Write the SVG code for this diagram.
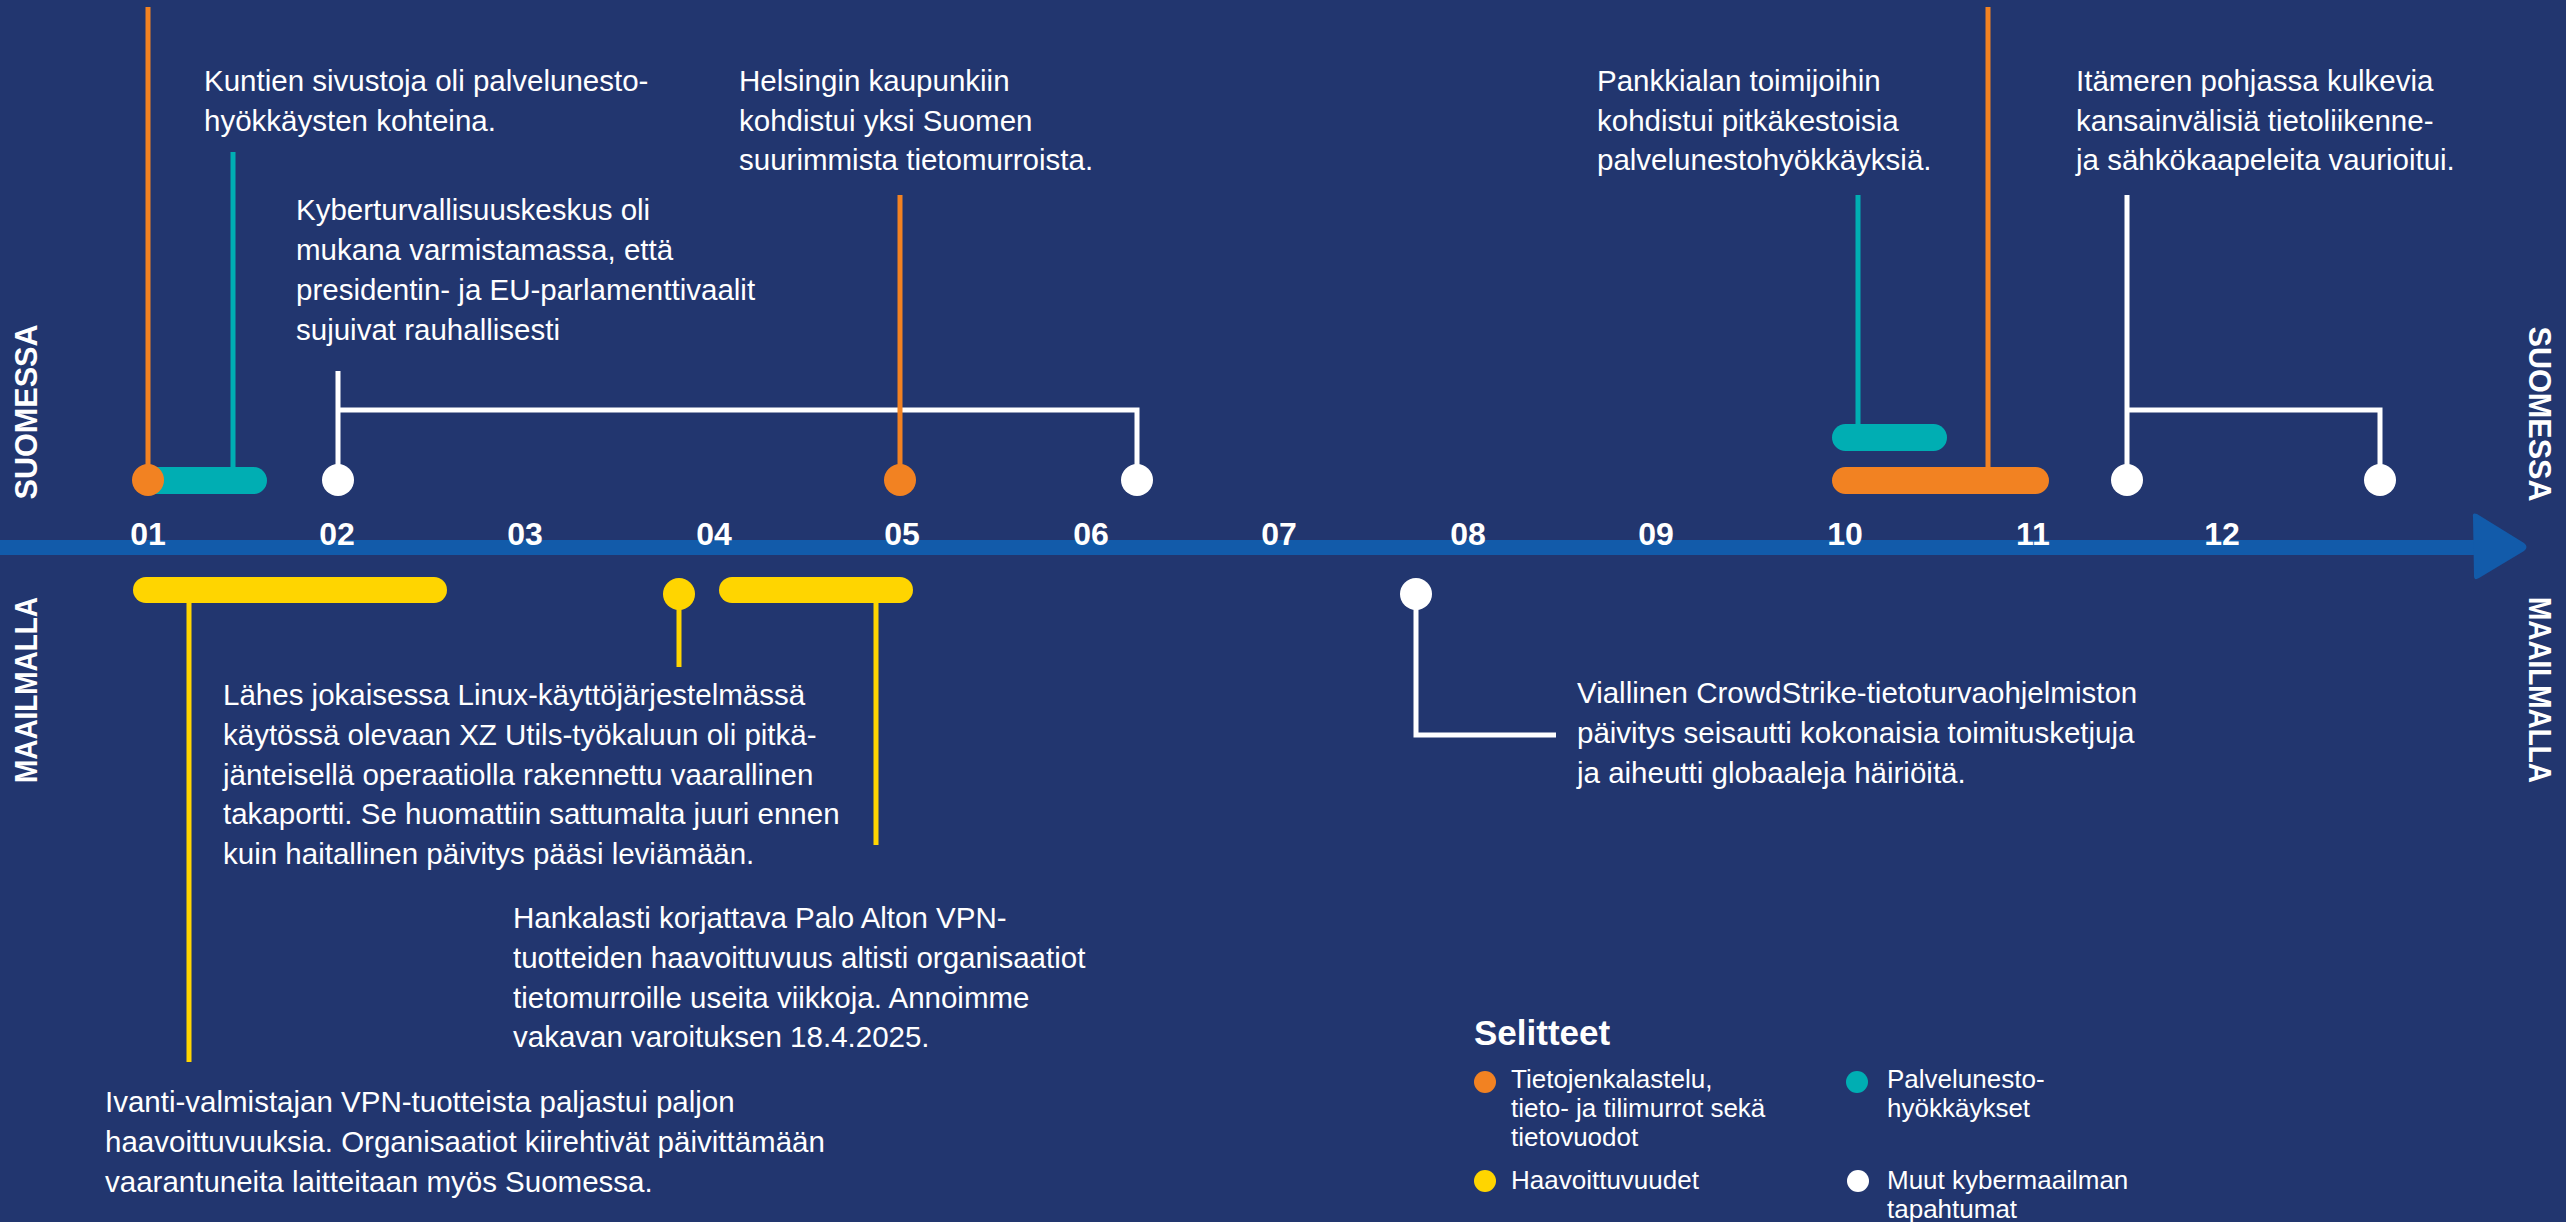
<svg xmlns="http://www.w3.org/2000/svg" width="2566" height="1222" viewBox="0 0 2566 1222">
<style>
.t{font-family:"Liberation Sans",Arial,sans-serif;font-size:29.5px;fill:#fff}
.lg{font-family:"Liberation Sans",Arial,sans-serif;font-size:26px;fill:#fff}
.m{font-family:"Liberation Sans",Arial,sans-serif;font-size:32px;font-weight:bold;fill:#fff;text-anchor:middle}
.side{font-family:"Liberation Sans",Arial,sans-serif;font-size:31px;font-weight:bold;fill:#fff;text-anchor:middle}
.ttl{font-family:"Liberation Sans",Arial,sans-serif;font-size:35px;font-weight:bold;fill:#fff}
.ln{fill:none;stroke-width:5}
.o{fill:#F28222}.c{fill:#00AEB3}.y{fill:#FFD500}.w{fill:#fff}
.so{stroke:#F28222}.sc{stroke:#00AEB3}.sy{stroke:#FFD500}.sw{stroke:#fff}
</style>
<rect width="2566" height="1222" fill="#22366F"/>
<g id="axis">
<rect x="0" y="540" width="2480" height="15" fill="#125BAA"/>
<path d="M2473,517 Q2472,512 2477,514 L2524,543 Q2529,547 2524,551 L2479,578 Q2474,581 2474,576 Z" fill="#125BAA"/>
</g>
<g id="months">
<text class="m" x="148" y="545">01</text>
<text class="m" x="337" y="545">02</text>
<text class="m" x="525" y="545">03</text>
<text class="m" x="714" y="545">04</text>
<text class="m" x="902" y="545">05</text>
<text class="m" x="1091" y="545">06</text>
<text class="m" x="1279" y="545">07</text>
<text class="m" x="1468" y="545">08</text>
<text class="m" x="1656" y="545">09</text>
<text class="m" x="1845" y="545">10</text>
<text class="m" x="2033" y="545">11</text>
<text class="m" x="2222" y="545">12</text>
</g>
<g id="side-labels">
<text class="side" transform="translate(37,412) rotate(-90)" textLength="175" lengthAdjust="spacingAndGlyphs">SUOMESSA</text>
<text class="side" transform="translate(37,690) rotate(-90)" textLength="186" lengthAdjust="spacingAndGlyphs">MAAILMALLA</text>
<text class="side" transform="translate(2529,414) rotate(90)" textLength="175" lengthAdjust="spacingAndGlyphs">SUOMESSA</text>
<text class="side" transform="translate(2529,690) rotate(90)" textLength="186" lengthAdjust="spacingAndGlyphs">MAAILMALLA</text>
</g>
<g id="connectors">
<path class="ln so" d="M148,7 V480"/>
<path class="ln sc" d="M233,152 V470"/>
<path class="ln sw" d="M338,371 V480 M338,410 H1137 V480"/>
<path class="ln so" d="M900,195 V480"/>
<path class="ln sc" d="M1858,195 V428"/>
<path class="ln so" d="M1988,7 V470"/>
<path class="ln sw" d="M2127,195 V480 M2127,410 H2380 V480"/>
<path class="ln sy" d="M189,600 V1062"/>
<path class="ln sy" d="M679,600 V667"/>
<path class="ln sy" d="M876,600 V845"/>
<path class="ln sw" d="M1416,594 V735 H1556"/>
</g>
<g id="ev-jan-ddos"><rect class="c" x="140" y="467" width="127" height="27" rx="13.5"/></g>
<g id="ev-jan-breach"><circle class="o" cx="148" cy="480" r="16"/></g>
<g id="ev-feb-elections"><circle class="w" cx="338" cy="480" r="16"/><circle class="w" cx="1137" cy="480" r="16"/></g>
<g id="ev-may-helsinki"><circle class="o" cx="900" cy="480" r="16"/></g>
<g id="ev-oct-ddos"><rect class="c" x="1832" y="424" width="115" height="27" rx="13.5"/></g>
<g id="ev-oct-breach"><rect class="o" x="1832" y="467" width="217" height="27" rx="13.5"/></g>
<g id="ev-dec-cables"><circle class="w" cx="2127" cy="480" r="16"/><circle class="w" cx="2380" cy="480" r="16"/></g>
<g id="ev-jan-ivanti"><rect class="y" x="133" y="577" width="314" height="26" rx="13"/></g>
<g id="ev-apr-xz"><circle class="y" cx="679" cy="594" r="16"/></g>
<g id="ev-apr-palo"><rect class="y" x="719" y="577" width="194" height="26" rx="13"/></g>
<g id="ev-jul-crowdstrike"><circle class="w" cx="1416" cy="594" r="16"/></g>
<g id="texts">
<text class="t" x="204" y="91">Kuntien sivustoja oli palvelunesto-<tspan x="204" y="131">hyökkäysten kohteina.</tspan></text>
<text class="t" x="296" y="220">Kyberturvallisuuskeskus oli<tspan x="296" y="260">mukana varmistamassa, että</tspan><tspan x="296" y="300">presidentin- ja EU-parlamenttivaalit</tspan><tspan x="296" y="340">sujuivat rauhallisesti</tspan></text>
<text class="t" x="739" y="91">Helsingin kaupunkiin<tspan x="739" y="131">kohdistui yksi Suomen</tspan><tspan x="739" y="170">suurimmista tietomurroista.</tspan></text>
<text class="t" x="1597" y="91">Pankkialan toimijoihin<tspan x="1597" y="131">kohdistui pitkäkestoisia</tspan><tspan x="1597" y="170">palvelunestohyökkäyksiä.</tspan></text>
<text class="t" x="2076" y="91">Itämeren pohjassa kulkevia<tspan x="2076" y="131">kansainvälisiä tietoliikenne-</tspan><tspan x="2076" y="170">ja sähkökaapeleita vaurioitui.</tspan></text>
<text class="t" x="223" y="705">Lähes jokaisessa Linux-käyttöjärjestelmässä<tspan x="223" y="745">käytössä olevaan XZ Utils-työkaluun oli pitkä-</tspan><tspan x="223" y="785">jänteisellä operaatiolla rakennettu vaarallinen</tspan><tspan x="223" y="824">takaportti. Se huomattiin sattumalta juuri ennen</tspan><tspan x="223" y="864">kuin haitallinen päivitys pääsi leviämään.</tspan></text>
<text class="t" x="513" y="928">Hankalasti korjattava Palo Alton VPN-<tspan x="513" y="968">tuotteiden haavoittuvuus altisti organisaatiot</tspan><tspan x="513" y="1008">tietomurroille useita viikkoja. Annoimme</tspan><tspan x="513" y="1047">vakavan varoituksen 18.4.2025.</tspan></text>
<text class="t" x="105" y="1112">Ivanti-valmistajan VPN-tuotteista paljastui paljon<tspan x="105" y="1152">haavoittuvuuksia. Organisaatiot kiirehtivät päivittämään</tspan><tspan x="105" y="1192">vaarantuneita laitteitaan myös Suomessa.</tspan></text>
<text class="t" x="1577" y="703">Viallinen CrowdStrike-tietoturvaohjelmiston<tspan x="1577" y="743">päivitys seisautti kokonaisia toimitusketjuja</tspan><tspan x="1577" y="783">ja aiheutti globaaleja häiriöitä.</tspan></text>
</g>
<g id="legend">
<text class="ttl" x="1474" y="1045">Selitteet</text>
<circle class="o" cx="1485" cy="1082" r="11"/>
<text class="lg" x="1511" y="1088">Tietojenkalastelu,<tspan x="1511" y="1117">tieto- ja tilimurrot sekä</tspan><tspan x="1511" y="1146">tietovuodot</tspan></text>
<circle class="y" cx="1485" cy="1181" r="11"/>
<text class="lg" x="1511" y="1189">Haavoittuvuudet</text>
<circle class="c" cx="1857" cy="1082" r="11"/>
<text class="lg" x="1887" y="1088">Palvelunesto-<tspan x="1887" y="1117">hyökkäykset</tspan></text>
<circle class="w" cx="1858" cy="1181" r="11"/>
<text class="lg" x="1887" y="1189">Muut kybermaailman<tspan x="1887" y="1218">tapahtumat</tspan></text>
</g>
</svg>
